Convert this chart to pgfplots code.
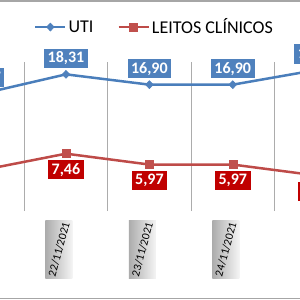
\documentclass[border=0pt]{standalone}
\usepackage{pgfplots}
\pgfplotsset{compat=1.18}
\usepackage{fontspec}
\setmainfont{Carlito}
\definecolor{utiline}{HTML}{4A7EBB}
\definecolor{utifill}{HTML}{4F81BD}
\definecolor{leitline}{HTML}{BE4B48}
\definecolor{leitfill}{HTML}{C0504D}
\definecolor{leitbox}{HTML}{C00000}
\newcommand{\tl}[1]{\rotatebox{75}{#1}}
\begin{document}
\begin{tikzpicture}
\useasboundingbox (0,0) rectangle (300pt,300pt);
\begin{scope}
\clip (0,0) rectangle (300pt,300pt);
\begin{axis}[
  scale only axis,
  width=300pt, height=146.2pt,
  at={(0pt,91.8pt)}, anchor=south west,
  xmin=0.209, xmax=3.806,
  ymin=0, ymax=20,
  clip=false,
  axis x line=bottom, axis y line=none,
  x axis line style={draw=none},
  ytick=\empty,
  xtick={0,1,2,3,4},
  xticklabels={\tl{21/11/2021},\tl{22/11/2021},\tl{23/11/2021},\tl{24/11/2021},\tl{25/11/2021}},
  minor xtick={-0.5,0.5,1.5,2.5,3.5,4.5},
  xminorgrids=true,
  minor x grid style={color=gray!65, line width=0.8pt},
  tick align=outside,
  major tick length=0pt,
  minor tick length=3pt,
  tick style={color=gray!65, line width=0.8pt},
  xticklabel style={anchor=north, xshift=-7pt, yshift=-12pt,
    minimum width=27pt, minimum height=58pt, inner sep=0pt,
    left color=gray!65, right color=gray!8,
    font=\fontsize{11.5}{12}\selectfont},
  legend columns=2,
  legend style={draw=none, fill=none, at={(0.515,1.239)}, anchor=center,
    font=\fontsize{18}{20}\selectfont,
    /tikz/every even column/.append style={column sep=22pt}},
  legend image code/.code={\draw[mark repeat=2,mark phase=2,#1] plot coordinates {(0pt,0pt) (15pt,0pt) (30pt,0pt)};},
  point meta=explicit symbolic,
]
\addplot[color=utiline, line width=2.5pt, mark=diamond*, mark size=4pt,
  mark options={fill=utifill, draw=utifill, line width=0.5pt, xscale=1.3},
  nodes near coords,
  every node near coord/.append style={anchor=center, yshift=16pt,
    fill=utifill, text=white, font=\fontsize{16}{18}\selectfont\bfseries,
    inner xsep=3.5pt, inner ysep=3pt}]
coordinates {(0,15.67) [15,67] (1,18.31) [18,31] (2,16.90) [16,90] (3,16.90) [16,90] (4,18.90) [18,90]};
\addlegendentry{UTI}
\addplot[color=leitline, line width=2.5pt, mark=square*, mark size=4pt,
  mark options={fill=leitfill, draw=leitfill, line width=0.5pt},
  nodes near coords,
  every node near coord/.append style={anchor=center, yshift=-16pt,
    fill=leitbox, text=white, font=\fontsize{16}{18}\selectfont\bfseries,
    inner xsep=3.5pt, inner ysep=3pt}]
coordinates {(0,5.22) [5,22] (1,7.46) [7,46] (2,5.97) [5,97] (3,5.97) [5,97] (4,4.48) [4,48]};
\addlegendentry{LEITOS CLÍNICOS}
\end{axis}
\draw[gray!70, line width=1.2pt] (0,299pt) -- (300pt,299pt);
\draw[gray!70, line width=1.2pt] (0,1.5pt) -- (300pt,1.5pt);
\end{scope}
\end{tikzpicture}
\end{document}
